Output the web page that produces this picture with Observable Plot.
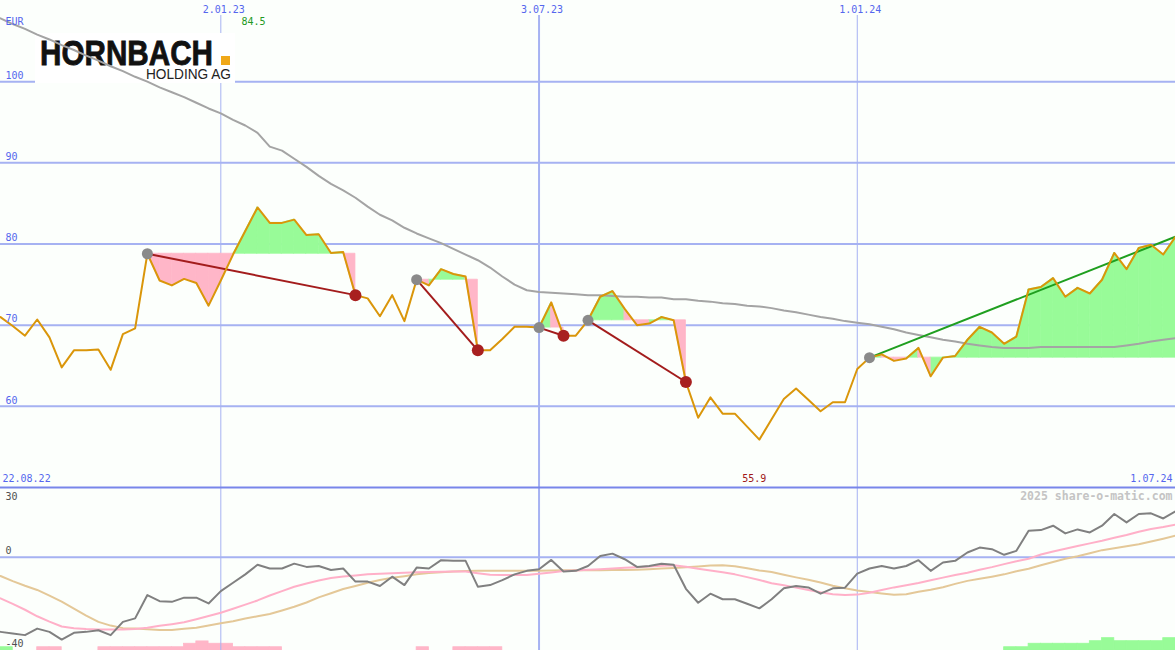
<!DOCTYPE html>
<html><head><meta charset="utf-8">
<script src="https://cdn.jsdelivr.net/npm/d3@7"></script>
<script src="https://cdn.jsdelivr.net/npm/@observablehq/plot@0.6"></script>
<style>
body{margin:0;background:#fcfffc;}
#wrap{position:relative;width:1175px;height:650px;background:#fcfffc;overflow:hidden;}
#wrap svg{position:absolute;left:0;overflow:visible;background:transparent;}
</style></head><body><div id="wrap"></div>
<script>
// ---- data (weekly closes, EUR) ----
const startDate = "2022-08-29";
const endDate = "2024-07-01";
const price = [71.0,69.9,68.7,70.7,68.5,64.8,66.9,66.9,67.0,64.5,68.9,69.6,78.8,75.5,74.9,75.7,75.2,72.4,75.5,78.7,
  81.6,84.5,82.6,82.6,83.0,81.1,81.2,78.9,79.0,73.7,73.3,71.1,73.7,70.5,75.6,74.9,76.9,76.3,76.0,66.9,
  66.9,68.3,69.8,69.8,69.7,72.8,68.7,68.7,70.6,73.5,74.2,72.0,70.0,70.2,71.0,70.6,63.0,58.6,61.1,59.1,
  59.1,57.5,55.9,58.4,60.9,62.2,60.8,59.4,60.5,60.5,64.6,66.0,66.4,65.6,65.9,67.2,63.7,66.0,66.2,68.2,
  69.8,69.1,67.7,68.6,74.4,74.7,75.8,73.5,74.6,73.9,75.6,78.9,76.9,79.5,79.9,78.7,80.9];
const movingAvg = [107.8,107.1,106.5,105.8,105.2,104.5,103.9,103.2,102.6,101.9,101.3,100.6,100.0,99.3,98.7,98.1,97.4,96.7,96.1,95.3,
  94.6,93.7,92.0,91.5,90.5,89.5,88.4,87.4,86.6,85.7,84.6,83.6,82.9,82.0,81.3,80.7,80.1,79.4,78.7,78.0,
  77.1,76.0,75.0,74.3,74.1,74.0,73.9,73.8,73.7,73.7,73.6,73.5,73.5,73.4,73.4,73.2,73.2,73.0,72.9,72.7,
  72.6,72.4,72.3,72.1,71.8,71.6,71.3,71.0,70.8,70.5,70.3,70.1,69.8,69.5,69.1,68.8,68.5,68.2,68.0,67.7,
  67.5,67.3,67.2,67.2,67.2,67.3,67.3,67.3,67.3,67.3,67.3,67.3,67.5,67.7,68.0,68.2,68.4];
// lower panel
const oscGray = [-32.0,-32.7,-33.4,-30.6,-32.0,-35.3,-32.4,-32.0,-31.3,-33.4,-27.7,-26.2,-16.2,-18.8,-19.1,-17.3,-17.3,-19.8,-14.5,-10.9,
  -7.3,-3.2,-4.8,-4.8,-2.7,-4.1,-3.7,-5.4,-4.8,-10.4,-10.4,-12.3,-8.3,-11.9,-4.4,-4.8,-1.2,-1.5,-1.5,-12.6,
  -11.9,-9.8,-7.3,-5.8,-5.1,-1.1,-6.1,-5.8,-3.7,0.6,1.6,-0.8,-4.1,-3.7,-2.7,-3.2,-13.5,-19.5,-15.6,-18.0,
  -18.0,-19.9,-21.9,-18.0,-13.3,-12.3,-12.9,-15.6,-13.3,-13.0,-7.0,-4.8,-3.7,-4.8,-3.7,-1.2,-5.8,-2.2,-1.5,2.1,
  4.2,3.5,1.1,2.8,11.4,11.7,13.6,10.3,12.0,10.7,13.6,18.6,15.0,18.6,18.9,16.7,19.8];
const oscPink = [-17.6,-20.0,-22.5,-25.3,-27.6,-29.7,-30.4,-30.8,-31.0,-31.0,-31.0,-30.8,-30.2,-29.4,-28.7,-27.9,-26.6,-25.2,-23.8,-22.1,
  -20.3,-18.5,-16.4,-14.5,-12.6,-11.2,-9.9,-8.9,-8.2,-7.8,-7.3,-7.0,-6.8,-6.6,-6.4,-6.3,-6.2,-6.1,-6.1,-6.8,
  -7.5,-7.6,-7.6,-7.6,-7.0,-6.5,-5.9,-5.6,-5.3,-5.1,-4.8,-4.5,-4.2,-3.9,-3.6,-3.4,-4.0,-4.9,-5.6,-6.4,
  -7.3,-8.5,-9.7,-11.1,-12.0,-13.0,-14.0,-15.0,-15.8,-16.2,-16.0,-15.2,-14.0,-12.9,-12.0,-11.0,-9.8,-8.7,-7.6,-6.6,
  -5.3,-4.2,-2.9,-1.7,-0.6,1.2,2.5,3.7,4.9,6.0,7.1,8.4,9.6,11.0,12.2,13.0,14.0];
const oscBeige = [-8.0,-10.2,-12.2,-14.0,-16.4,-19.0,-22.0,-25.0,-27.7,-29.3,-30.4,-30.6,-30.9,-31.2,-31.2,-30.7,-30.2,-29.3,-28.3,-27.4,
  -26.3,-25.3,-24.3,-22.8,-21.2,-19.4,-17.2,-15.4,-13.6,-12.3,-10.9,-9.7,-8.8,-8.1,-7.3,-6.7,-6.4,-6.1,-5.9,-5.8,
  -5.8,-5.8,-5.8,-5.7,-5.7,-5.6,-5.5,-5.5,-5.5,-5.5,-5.4,-5.4,-5.3,-5.1,-4.8,-4.6,-4.3,-3.9,-3.5,-3.4,
  -3.8,-4.7,-5.6,-6.3,-7.5,-8.6,-9.6,-10.8,-12.2,-13.3,-14.2,-14.9,-15.5,-16.1,-15.8,-14.8,-13.9,-12.8,-11.4,-10.1,
  -9.2,-8.3,-7.3,-6.0,-4.9,-3.4,-2.0,-0.6,0.5,1.8,3.1,3.9,4.8,5.6,6.8,8.0,9.3];
// histogram at bottom (+ green, - pink)
const histo = [1.4,0,0,-1.4,-1.4,0,0,0,-1.4,-1.4,-1.4,-1.4,-1.4,-1.4,-1.4,-2.9,-3.9,-2.9,-2.9,-1.4,
  -1.4,-1.4,-1.4,0,0,0,0,0,0,0,0,0,0,0,-1.4,0,0,-1.4,-1.4,-1.4,
  -1.4,0,0,0,0,0,0,0,0,0,0,0,0,0,0,0,0,0,0,0,
  0,0,0,0,0,0,0,0,0,0,0,0,0,0,0,0,0,0,0,0,
  0,0,1.4,1.4,2.9,2.9,2.9,2.9,2.9,4.0,5.3,4.0,4.0,4.0,4.0,5.3,0];
// signals: start (gray dot) and end (red dot) week indices
const signalStarts = [12,34,44,48,71];
const signalEnds = [29,39,46,56,96];
// ticks & labels
const gridMain = [60,70,80,90,100];
const gridLower = [30,0,-40];
const dateTicks = ["2023-01-02","2023-07-03","2024-01-01"];
const dateTickLabels = ["2.01.23","3.07.23","1.01.24"];
const rangeLabels = ["22.08.22","1.07.24"];
const currency = "EUR";
const credit = "2025 share-o-matic.com";
const logoName = "HORNBACH";
const logoSub = "HOLDING AG";

// ---- derived tables ----
const t0 = new Date(startDate);
const dates = price.map((_, i) => d3.utcDay.offset(t0, 7 * i));
const rows = price.map((p, i) => ({date: dates[i], price: p, ma: movingAvg[i], g: oscGray[i], pk: oscPink[i], bg: oscBeige[i]}));
const fillRows = [];
signalStarts.forEach((s, k) => {
  const e = signalEnds[k], L = price[s];
  for (let i = s; i < e; i++) {
    const up = price[i + 1] >= L, id = k + "-" + i;
    fillRows.push({date: dates[i], p: price[i], L, id, up});
    fillRows.push({date: dates[i + 1], p: price[i + 1], L, id, up});
  }
});
const links = signalStarts.map((s, k) => ({d1: dates[s], p1: price[s], d2: dates[signalEnds[k]], p2: price[signalEnds[k]], up: signalEnds[k] === price.length - 1}));
const startDots = signalStarts.map(s => ({date: dates[s], p: price[s]}));
const endDots = signalEnds.filter(e => e !== price.length - 1).map(e => ({date: dates[e], p: price[e]}));
const bars = histo.map((h, i) => ({d1: dates[i], d2: d3.utcDay.offset(dates[i], 7), h})).filter(d => d.h !== 0);
const iMax = d3.maxIndex(price), iMin = d3.minIndex(price);
const tickDates = dateTicks.map(d => new Date(d));
const xDomain = [t0, new Date(endDate)];

const BLUE = "#5566ee", GRID = "#a6b2f2";
const mono = "DejaVu Sans Mono, monospace";
const GREEN_FILL = "#98fb98", PINK_FILL = "#ffb6c8";

const logo = () => {
  const g = d3.create("svg:g").attr("text-anchor", "start");
  g.append("rect").attr("x", 35).attr("y", 33).attr("width", 200).attr("height", 50).attr("fill", "#ffffff");
  g.append("text").attr("x", 40).attr("y", 65).attr("text-anchor", "start").attr("font-family", "Liberation Sans, Arial, sans-serif")
    .attr("font-weight", "bold").attr("font-size", 35).attr("textLength", 173).attr("lengthAdjust", "spacingAndGlyphs")
    .attr("fill", "#111").attr("stroke", "#111").attr("stroke-width", 0.8).text(logoName);
  g.append("rect").attr("x", 221).attr("y", 56).attr("width", 9).attr("height", 9).attr("fill", "#f0a818");
  g.append("text").attr("x", 146).attr("y", 79).attr("text-anchor", "start").attr("font-family", "Liberation Sans, Arial, sans-serif")
    .attr("font-size", 14.5).attr("textLength", 85).attr("lengthAdjust", "spacingAndGlyphs")
    .attr("fill", "#222").text(logoSub);
  return g.node();
};

const main = Plot.plot({
  width: 1175, height: 487, margin: 0,
  x: {type: "utc", domain: xDomain, axis: null},
  y: {domain: [50, 110], axis: null},
  style: {background: "transparent", overflow: "visible", fontFamily: mono, fontSize: "10px"},
  marks: [
    Plot.ruleY(gridMain, {stroke: GRID, strokeWidth: 2}),
    Plot.ruleX(tickDates.filter((d, i) => i !== 1), {stroke: GRID, strokeWidth: 1, insetTop: 15}),
    Plot.ruleX(tickDates.filter((d, i) => i === 1), {stroke: GRID, strokeWidth: 2, insetTop: 15}),
    logo,
    Plot.areaY(fillRows.filter(d => d.up), {x: "date", y1: "L", y2: "p", z: "id", fill: GREEN_FILL, stroke: GREEN_FILL, strokeWidth: 0.8}),
    Plot.areaY(fillRows.filter(d => !d.up), {x: "date", y1: "L", y2: "p", z: "id", fill: PINK_FILL, stroke: PINK_FILL, strokeWidth: 0.8}),
    Plot.lineY(rows, {x: "date", y: "ma", stroke: "#a4a4a4", strokeWidth: 2}),
    Plot.link(links.filter(d => !d.up), {x1: "d1", y1: "p1", x2: "d2", y2: "p2", stroke: "#a31c1c", strokeWidth: 2}),
    Plot.link(links.filter(d => d.up), {x1: "d1", y1: "p1", x2: "d2", y2: "p2", stroke: "#1f9f1f", strokeWidth: 2}),
    Plot.lineY(rows, {x: "date", y: "price", stroke: "#da960a", strokeWidth: 2}),
    Plot.dot(startDots, {x: "date", y: "p", r: 5.5, fill: "#8a8a8a"}),
    Plot.dot(endDots, {x: "date", y: "p", r: 6, fill: "#a82020"}),
    Plot.text(gridMain, {y: d => d, text: d => String(d), frameAnchor: "left", textAnchor: "start", lineAnchor: "middle", dx: 5, dy: -6, fill: BLUE}),
    Plot.text([currency], {text: d => d, frameAnchor: "top-left", textAnchor: "start", lineAnchor: "middle", dx: 5, dy: 21, fill: BLUE}),
    Plot.text(tickDates, {x: d => d, text: (d, i) => dateTickLabels[i], frameAnchor: "top", lineAnchor: "middle", dx: 3, dy: 9, fill: BLUE}),
    Plot.text([rangeLabels[0]], {text: d => d, frameAnchor: "bottom-left", textAnchor: "start", lineAnchor: "middle", dx: 2, dy: -9, fill: BLUE}),
    Plot.text([rangeLabels[1]], {text: d => d, frameAnchor: "bottom-right", textAnchor: "end", lineAnchor: "middle", dx: -3, dy: -9, fill: BLUE}),
    Plot.text([iMax], {x: i => dates[i], text: i => d3.format(".1f")(price[i]), frameAnchor: "top", lineAnchor: "middle", dx: -4, dy: 21, fill: "#229922"}),
    Plot.text([iMin], {x: i => dates[i], text: i => d3.format(".1f")(price[i]), frameAnchor: "bottom", lineAnchor: "middle", dx: -5, dy: -9, fill: "#a01818"})
  ]
});

const lower = Plot.plot({
  width: 1175, height: 163, margin: 0,
  x: {type: "utc", domain: xDomain, axis: null},
  y: {domain: [-40, 30], axis: null},
  style: {background: "transparent", overflow: "visible", fontFamily: mono, fontSize: "10px"},
  marks: [
    Plot.rect(bars.filter(d => d.h > 0), {x1: "d1", x2: "d2", y1: -40, y2: d => -40 + d.h, fill: GREEN_FILL, stroke: GREEN_FILL, strokeWidth: 0.8}),
    Plot.rect(bars.filter(d => d.h < 0), {x1: "d1", x2: "d2", y1: -40, y2: d => -40 - d.h, fill: PINK_FILL, stroke: PINK_FILL, strokeWidth: 0.8}),
    Plot.ruleY([0], {stroke: GRID, strokeWidth: 2}),
    Plot.ruleX(tickDates.filter((d, i) => i !== 1), {stroke: GRID, strokeWidth: 1}),
    Plot.ruleX(tickDates.filter((d, i) => i === 1), {stroke: GRID, strokeWidth: 2}),
    Plot.ruleY([30], {stroke: "#7886ea", strokeWidth: 2}),
    Plot.lineY(rows, {x: "date", y: "bg", stroke: "#e4c898", strokeWidth: 2}),
    Plot.lineY(rows, {x: "date", y: "pk", stroke: "#ffb0c8", strokeWidth: 2}),
    Plot.lineY(rows, {x: "date", y: "g", stroke: "#808080", strokeWidth: 2}),
    Plot.text(gridLower.filter(v => v === 30), {y: d => d, text: d => String(d), frameAnchor: "left", textAnchor: "start", lineAnchor: "middle", dx: 5, dy: 9, fill: "#505050"}),
    Plot.text(gridLower.filter(v => v !== 30), {y: d => d, text: d => String(d), frameAnchor: "left", textAnchor: "start", lineAnchor: "middle", dx: 5, dy: -7, fill: "#505050"}),
    Plot.text([credit], {text: d => d, frameAnchor: "top-right", textAnchor: "end", lineAnchor: "middle", dx: -3, dy: 9, fill: "#c4c4c4", fontWeight: "bold", fontSize: 11.5})
  ]
});

const wrap = document.getElementById("wrap");
main.style.top = "0px";
lower.style.top = "487px";
wrap.appendChild(main);
wrap.appendChild(lower);
</script></body></html>
